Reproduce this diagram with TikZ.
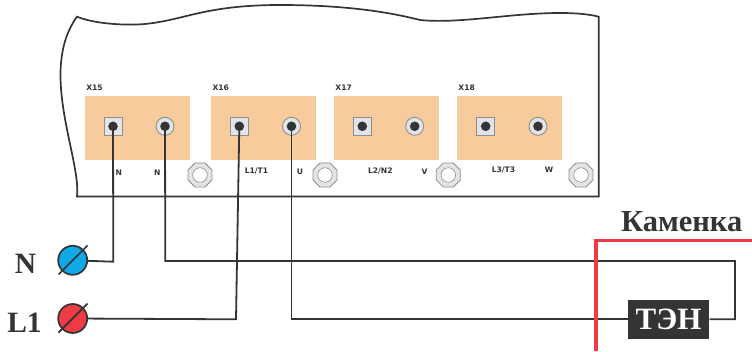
\documentclass[tikz,border=0pt]{standalone}
\usepackage{fontspec}
\setmainfont{Liberation Serif}
\newfontfamily\smallsans{DejaVu Sans}
\usetikzlibrary{shapes.geometric}
\definecolor{dark}{HTML}{333436}
\definecolor{orangepad}{HTML}{F8CB9C}
\definecolor{greyface}{HTML}{E3E4E5}
\definecolor{greyedge}{HTML}{8E8F90}
\definecolor{redline}{HTML}{EF3B45}
\definecolor{bluefill}{HTML}{0FA9E6}
\tikzset{
  pad/.style={fill=orangepad,draw=none,minimum width=104.6pt,minimum height=64.6pt,inner sep=0pt,outer sep=0pt},
  sqterm/.style={rectangle,fill=greyface,draw=greyedge,line width=.9pt,minimum size=18pt,inner sep=0pt},
  rdterm/.style={circle,fill=greyface,draw=greyedge,line width=.9pt,minimum size=18pt,inner sep=0pt},
  stud/.style={circle,fill=dark,draw=none,minimum size=9.6pt,inner sep=0pt},
  bolt/.style={regular polygon,regular polygon sides=8,fill=greyface,draw=greyedge,line width=.8pt,minimum size=26pt,inner sep=0pt},
  hole/.style={circle,fill=white,draw=greyedge,line width=.6pt,minimum size=14.5pt,inner sep=0pt},
  tiny/.style={font=\smallsans\bfseries\fontsize{7.6}{8}\selectfont,text=dark,inner sep=0pt},
  wire/.style={draw=dark,line width=1.8pt,line join=miter},
  supply/.style={circle,draw=dark,line width=1.7pt,minimum size=29pt,inner sep=0pt},
  big/.style={font=\bfseries\fontsize{29.5}{30}\selectfont,text=dark,inner sep=0pt},
}
\begin{document}
\begin{tikzpicture}[x=1pt,y=-1pt]
\useasboundingbox (0,0) rectangle (752,352);
% housing
\draw[dark,line width=1.7pt,line join=miter]
  (77,16.7) .. controls (92,23) and (122,26) .. (145,24)
  .. controls (185,20) and (205,5) .. (280,5)
  .. controls (340,5) and (385,11) .. (420,20)
  .. controls (460,24) and (510,13) .. (560,13)
  .. controls (575,13) and (588,14) .. (598.7,16.7)
  -- (598.7,196.5) -- (77,196.5)
  .. controls (80,170) and (60,120) .. (60.5,73)
  .. controls (61,50) and (66,32) .. (77,16.7) -- cycle;
% pads
\node[pad] (p15) at (137.3,128) {};
\node[pad] (p16) at (263.6,128) {};
\node[pad] (p17) at (386.6,128) {};
\node[pad] (p18) at (509.6,128) {};
% pad titles
\node[tiny] (x15) at (94.5,87.3) {X15};
\node[tiny] (x16) at (220.8,87.3) {X16};
\node[tiny] (x17) at (343.7,87.3) {X17};
\node[tiny] (x18) at (466.7,87.3) {X18};
% terminals
\node[sqterm] (a15) at (113,126.3) {};
\node[rdterm] (b15) at (165,126.3) {};
\node[sqterm] (a16) at (239.3,126.3) {};
\node[rdterm] (b16) at (291.5,126.3) {};
\node[sqterm] (a17) at (362.3,126.3) {};
\node[rdterm] (b17) at (414.7,126.3) {};
\node[sqterm] (a18) at (485.7,126.3) {};
\node[rdterm] (b18) at (538,126.3) {};
\foreach \n in {a15,b15,a16,b16,a17,b17,a18,b18}
  \node[stud] (s\n) at (\n) {};
% bolts
\foreach \n/\x in {1/200,2/325,3/448.3,4/581}{
  \node[bolt] (bolt\n) at (\x,175) {};
  \node[hole] (hole\n) at (\x,175) {};
}
% small labels
\node[tiny] (ln1) at (118.7,172.3) {N};
\node[tiny] (ln2) at (157.2,172.3) {N};
\node[tiny] (ll1) at (256.5,171) {L1/T1};
\node[tiny] (lu) at (300,171.7) {U};
\node[tiny] (ll2) at (380.3,171) {L2/N2};
\node[tiny] (lv) at (424.5,172) {V};
\node[tiny] (ll3) at (503.5,170.5) {L3/T3};
\node[tiny] (lw) at (549,170) {W};
% supply terminals
\node[supply,fill=bluefill] (tn) at (72.7,260.3) {};
\node[supply,fill=redline] (tl) at (72.7,318.5) {};
\draw[dark,line width=1.7pt] (58.5,274.5) -- (87.5,245.5);
\draw[dark,line width=1.7pt] (58.5,332.7) -- (87.5,303.7);
\node[big] (nn) at (25.5,264) {N};
\node[big] (nl) at (24.5,323) {L1};
% heater
\node[fill=dark,text=white,font=\bfseries\fontsize{31}{32}\selectfont,minimum width=81.6pt,minimum height=38.6pt,inner sep=0pt] (ten) at (668.5,319.3) {ТЭН};
% oven outline
\coordinate (r1) at (595.7,351);
\coordinate (r2) at (595.7,240.5);
\coordinate (r3) at (752,240.5);
% wires
\coordinate (w1) at (113.3,261.7);
\coordinate (w2) at (236,319.3);
\coordinate (w3) at (165.3,261);
\coordinate (w4) at (735,261);
\coordinate (w5) at (735,319.3);
\coordinate (w6) at (291.5,319.3);
\draw[wire] (sa15.center) -- (w1) -- (tn);
\draw[wire] (sa16.center) -- (w2) -- (tl);
\draw[wire] (sb15.center) -- (w3) -- (w4) -- (w5) -- (ten);
\draw[wire] (sb16.center) -- (w6) -- (ten);
\draw[redline,line width=3.6pt,line join=miter] (r1) -- (r2) -- (r3);
\node[big,font=\bfseries\fontsize{30.5}{31}\selectfont] (kam) at (681.7,221.5) {Каменка};
\end{tikzpicture}
\end{document}
